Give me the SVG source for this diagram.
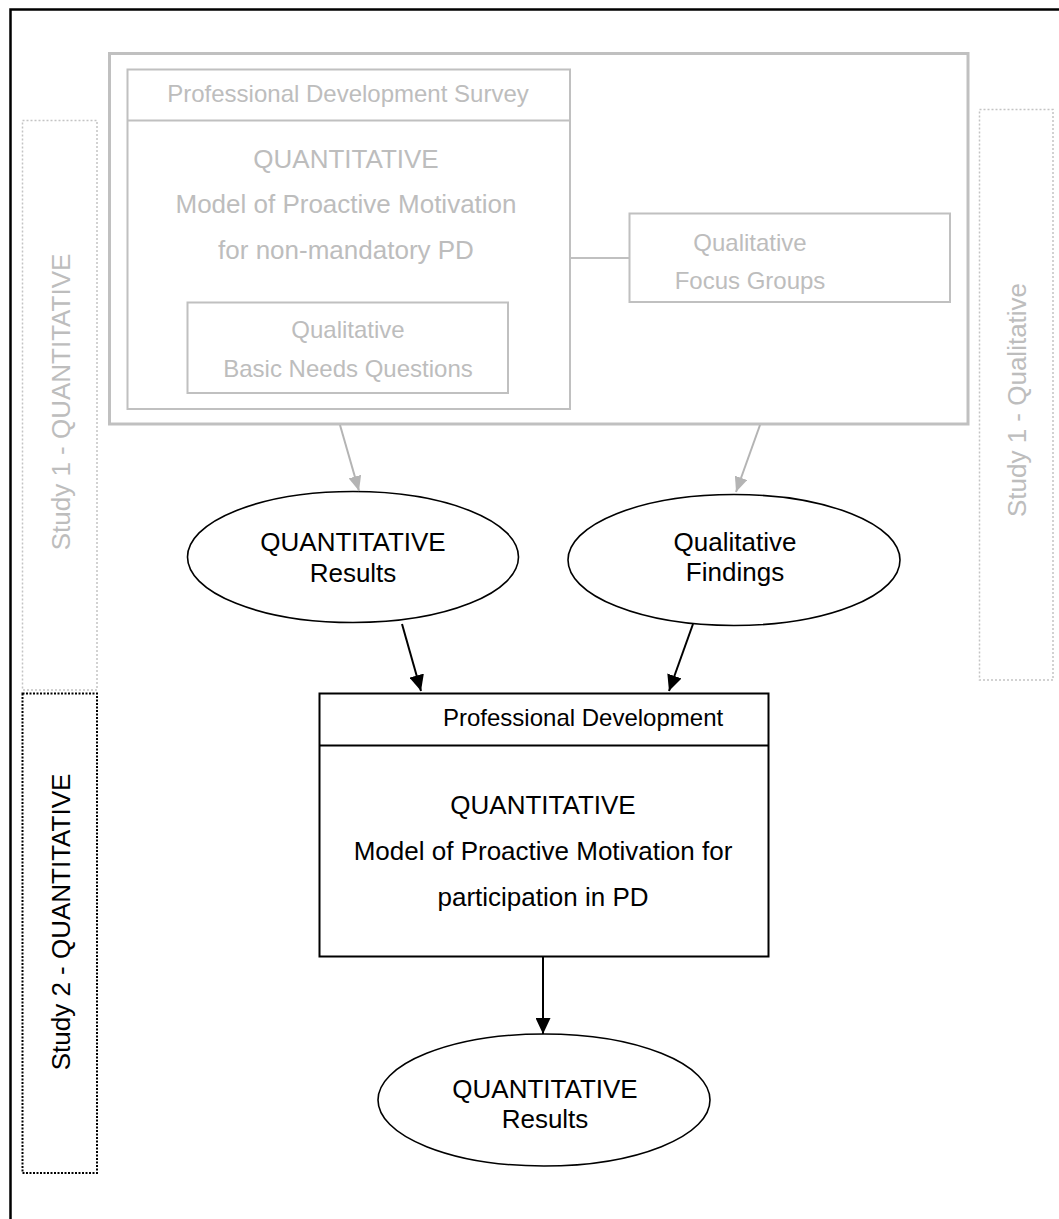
<svg xmlns="http://www.w3.org/2000/svg" width="1059" height="1219" viewBox="0 0 1059 1219">
  <defs>
    <style>
      .t { font-family: "Liberation Sans", Arial, sans-serif; text-anchor: middle; }
      .g { fill: #bdbdbd; }
      .k { fill: #000; }
      .gbox { fill: none; stroke: #c0c0c0; stroke-width: 2; }
      .kbox { fill: #fff; stroke: #000; stroke-width: 2; }
      .ell { fill: #fff; stroke: #000; stroke-width: 1.6; }
      .gdot { fill: none; stroke: #c4c4c4; stroke-width: 1.5; stroke-dasharray: 2 2; }
      .kdot { fill: none; stroke: #000; stroke-width: 2; stroke-dasharray: 2 1.5; }
      .garrow { stroke: #b4b4b4; stroke-width: 2; fill: none; marker-end: url(#headGray); }
      .karrow { stroke: #000; stroke-width: 2; fill: none; marker-end: url(#headBlack); }
    </style>
    <marker id="headGray" markerUnits="userSpaceOnUse" markerWidth="15" markerHeight="13" refX="15" refY="6.5" orient="auto">
      <path d="M0,0 L15,6.5 L0,13 z" fill="#b4b4b4"/>
    </marker>
    <marker id="headBlack" markerUnits="userSpaceOnUse" markerWidth="16" markerHeight="15" refX="16" refY="7.5" orient="auto">
      <path d="M0,0 L16,7.5 L0,15 z" fill="#000"/>
    </marker>
  </defs>

  <rect width="1059" height="1219" fill="#fff"/>
  <!-- page frame -->
  <rect x="10.5" y="9.5" width="1100" height="1300" fill="none" stroke="#000" stroke-width="2.5"/>

  <!-- study side bands -->
  <g id="band-study1-quant">
    <rect class="gdot" x="22.5" y="120.5" width="74.5" height="569.5"/>
    <text class="t g" font-size="26" transform="translate(69.5,402) rotate(-90)">Study 1 - QUANTITATIVE</text>
  </g>
  <g id="band-study2-quant">
    <rect class="kdot" x="22.5" y="693.5" width="74.5" height="479.5"/>
    <text class="t k" font-size="26" transform="translate(69.5,922) rotate(-90)">Study 2 - QUANTITATIVE</text>
  </g>
  <g id="band-study1-qual">
    <rect class="gdot" x="979.5" y="109.5" width="73.5" height="570.5"/>
    <text class="t g" font-size="26" transform="translate(1026,400) rotate(-90)">Study 1 - Qualitative</text>
  </g>

  <!-- study 1 container -->
  <g id="study1">
    <rect x="109.5" y="53.5" width="858.5" height="370.5" fill="none" stroke="#c0c0c0" stroke-width="3"/>
  </g>

  <g id="survey">
    <rect class="gbox" x="127.5" y="69.5" width="442.5" height="339.5"/>
    <line x1="127.5" y1="120.5" x2="570" y2="120.5" stroke="#c0c0c0" stroke-width="2"/>
    <text class="t g" font-size="24" x="348" y="102">Professional Development Survey</text>
    <text class="t g" font-size="26" x="346" y="168">QUANTITATIVE</text>
    <text class="t g" font-size="26" x="346" y="213">Model of Proactive Motivation</text>
    <text class="t g" font-size="26" x="346" y="259">for non-mandatory PD</text>
  </g>

  <g id="basic-needs">
    <rect class="gbox" x="187.5" y="302.5" width="320.5" height="90.5"/>
    <text class="t g" font-size="24" x="348" y="338">Qualitative</text>
    <text class="t g" font-size="24" x="348" y="377">Basic Needs Questions</text>
  </g>

  <g id="focus-groups">
    <rect class="gbox" x="629.5" y="213.5" width="320.5" height="88.5"/>
    <text class="t g" font-size="24" x="750" y="251">Qualitative</text>
    <text class="t g" font-size="24" x="750" y="289">Focus Groups</text>
  </g>

  <g id="quant-results-1">
    <ellipse class="ell" cx="353" cy="557" rx="165.5" ry="65.5"/>
    <text class="t k" font-size="26" x="353" y="551">QUANTITATIVE</text>
    <text class="t k" font-size="26" x="353" y="582">Results</text>
  </g>

  <g id="qual-findings">
    <ellipse class="ell" cx="734" cy="560" rx="166" ry="65.5"/>
    <text class="t k" font-size="26" x="735" y="551">Qualitative</text>
    <text class="t k" font-size="26" x="735" y="581">Findings</text>
  </g>

  <g id="pd-model">
    <rect class="kbox" x="319.5" y="693.5" width="449" height="263"/>
    <line x1="319.5" y1="745.5" x2="768.5" y2="745.5" stroke="#000" stroke-width="2"/>
    <text class="k" font-family="Liberation Sans, Arial, sans-serif" font-size="24" x="443" y="726">Professional Development</text>
    <text class="t k" font-size="26" x="543" y="814">QUANTITATIVE</text>
    <text class="t k" font-size="26" x="543" y="860">Model of Proactive Motivation for</text>
    <text class="t k" font-size="26" x="543" y="906">participation in PD</text>
  </g>

  <g id="quant-results-2">
    <ellipse class="ell" cx="544" cy="1100" rx="166" ry="66"/>
    <text class="t k" font-size="26" x="545" y="1098">QUANTITATIVE</text>
    <text class="t k" font-size="26" x="545" y="1128">Results</text>
  </g>

  <g id="connectors">
    <line x1="570" y1="258" x2="629.5" y2="258" stroke="#c0c0c0" stroke-width="2"/>
    <line class="garrow" x1="340" y1="425" x2="359" y2="491"/>
    <line class="garrow" x1="760" y1="425" x2="736" y2="492"/>
    <line class="karrow" x1="402" y1="624" x2="421" y2="691"/>
    <line class="karrow" x1="693" y1="624" x2="669" y2="691"/>
    <line class="karrow" x1="543" y1="957" x2="543" y2="1034"/>
  </g>
</svg>
